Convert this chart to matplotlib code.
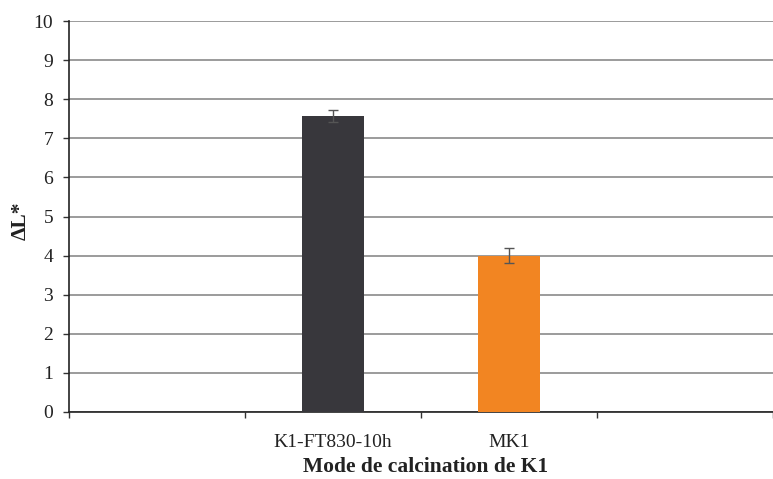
import matplotlib
matplotlib.use("Agg")
import matplotlib.pyplot as plt
import numpy as np

categories = ["", "K1-FT830-10h", "MK1", ""]
values = [np.nan, 7.57, 4.0, np.nan]
errors = [0, 0.15, 0.2, 0]
colors = ["#38373c", "#38373c", "#f28522", "#f28522"]
y_ticks = list(range(0, 11))

plt.rcParams['font.family'] = ['Liberation Serif', 'DejaVu Serif']

fig = plt.figure(figsize=(7.73, 4.79), dpi=100)
ax = fig.add_axes([69/773, 1-412/479, 1-69/773, (412-21)/479])

x = np.arange(len(categories))
vals = np.array(values, dtype=float)
mask = ~np.isnan(vals)
ax.bar(x[mask], vals[mask], width=0.35, color=[c for c, m in zip(colors, mask) if m], zorder=3)
ax.errorbar(x[mask], vals[mask], yerr=np.array(errors)[mask], fmt='none',
            ecolor='#555555', elinewidth=1, capsize=3.5, capthick=1, zorder=4)

ax.set_ylim(0, 10)
ax.set_xlim(-0.5, 3.5 - 8/178)
ax.set_yticks(y_ticks)
ax.set_yticklabels([str(t) for t in y_ticks], fontsize=14, color='#222222')
ax.yaxis.grid(True, color='#8a8a8a', linewidth=1.2, zorder=0)
ax.set_axisbelow(True)

ax.set_xticks([-0.5, 0.5, 1.5, 2.5, 3.5])
ax.set_xticklabels([])
ax.set_xticks(x, minor=True)
ax.set_xticklabels(categories, minor=True, fontsize=14, color='#222222')
ax.tick_params(axis='x', which='minor', length=0, pad=15.5)
ax.tick_params(axis='x', which='major', length=4.3, width=1, direction='out', color='#333333')
ax.tick_params(axis='y', length=4.3, width=1, pad=7.2, color='#333333')

for s in ['top', 'right']:
    ax.spines[s].set_visible(False)
for s in ['left', 'bottom']:
    ax.spines[s].set_color('#222222')
    ax.spines[s].set_linewidth(1.2)

fig.text(21/773, 1-221/479, "ΔL*", fontsize=15.5, fontweight='bold', rotation=90,
         ha='center', va='center', color='#222222')
fig.text(426/773, 1-467/479, "Mode de calcination de K1", fontsize=15.5, fontweight='bold',
         ha='center', va='center', color='#222222')

fig.savefig("out.png", dpi=100)
